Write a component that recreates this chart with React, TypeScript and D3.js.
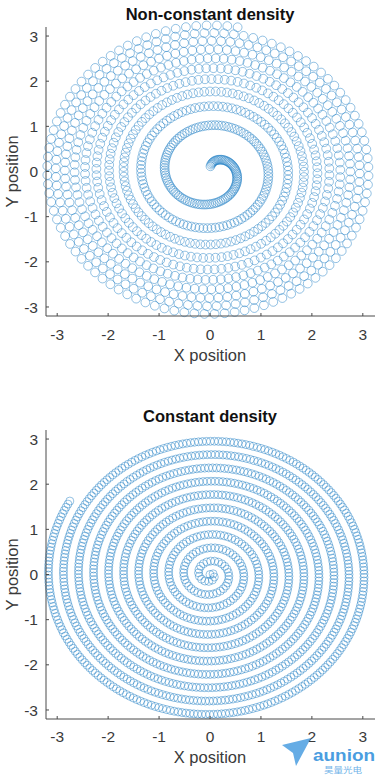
import React from "react";
import * as d3 from "d3";

// ---- data ----
const titles = ["Non-constant density", "Constant density"];
const xTicks = [-3, -2, -1, 0, 1, 2, 3];
const yTicks = [-3, -2, -1, 0, 1, 2, 3];
const xDomain = [-3.2, 3.2];
const yDomain = [-3.2, 3.2];

// Non-constant density: spiral r^2 = theta / k, points at equal angle steps
const fermatK = [6];
const fermatTheta = [0.08, 63]; // start, end (rad)
const fermatCount = [1000];

// Constant density: Archimedean spiral, pitch per turn, points at equal arc-length steps
const archPitch = [0.295];
const archTurns = [10.835];
const archCount = [1400];

type P = { x: number; y: number };

function fermatPoints(): P[] {
  const n = fermatCount[0];
  const t = d3.scaleLinear().domain([0, n - 1]).range(fermatTheta);
  return d3.range(n).map((i) => {
    const th = t(i);
    const r = Math.sqrt(th / fermatK[0]);
    return { x: r * Math.sin(th), y: r * Math.cos(th) };
  });
}

function archPoints(): P[] {
  const b = archPitch[0] / (2 * Math.PI);
  const thMax = archTurns[0] * 2 * Math.PI;
  const step = 0.0005;
  const ths: number[] = [0];
  const ss: number[] = [0];
  for (let th = step; th <= thMax + 1e-9; th += step) {
    const m = th - step / 2;
    const ds = b * Math.sqrt(1 + m * m) * step;
    ths.push(th);
    ss.push(ss[ss.length - 1] + ds);
  }
  const S = ss[ss.length - 1];
  const n = archCount[0];
  const bis = d3.bisector((d: number) => d).left;
  return d3.range(n).map((i) => {
    const target = (S * i) / (n - 1);
    const k = Math.min(bis(ss, target), ss.length - 1);
    const th = ths[k];
    const r = b * th;
    return { x: r * Math.sin(th), y: r * Math.cos(th) };
  });
}

const font = "'Liberation Sans', Arial, Helvetica, sans-serif";
const axisColor = "#4a4a4a";
const textColor = "#3a3a3a";

function Panel(props: {
  title: string;
  pts: P[];
  top: number;
  bottom: number;
  titleY: number;
  tickY: number;
  labelY: number;
  rMark: number;
}) {
  const { title, pts, top, bottom, titleY, tickY, labelY, rMark } = props;
  const x = d3.scaleLinear().domain(xDomain).range([47, 373]);
  const y = d3.scaleLinear().domain(yDomain).range([bottom, top]);
  const left = 46;
  const right = 375;
  return (
    <g>
      <text x={210} y={titleY} textAnchor="middle" fontFamily={font} fontWeight="bold" fontSize={16.5} fill="#111">
        {title}
      </text>
      <g fill="none" stroke="#1f7fc4" strokeWidth={0.6} strokeOpacity={0.8}>
        {pts.map((p, i) => (
          <circle key={i} cx={x(p.x)} cy={y(p.y)} r={rMark} />
        ))}
      </g>
      <line x1={left} x2={left} y1={top} y2={bottom} stroke={axisColor} strokeWidth={1} />
      <line x1={left} x2={right} y1={bottom} y2={bottom} stroke={axisColor} strokeWidth={1} />
      {xTicks.map((t) => (
        <g key={"x" + t}>
          <line x1={x(t)} x2={x(t)} y1={bottom} y2={bottom - 3} stroke={axisColor} strokeWidth={1} />
          <text x={x(t)} y={tickY} textAnchor="middle" fontFamily={font} fontSize={15.5} fill={textColor}>
            {t}
          </text>
        </g>
      ))}
      {yTicks.map((t) => (
        <g key={"y" + t}>
          <line x1={left} x2={left + 3} y1={y(t)} y2={y(t)} stroke={axisColor} strokeWidth={1} />
          <text x={38} y={y(t)} dy="0.36em" textAnchor="end" fontFamily={font} fontSize={15.5} fill={textColor}>
            {t}
          </text>
        </g>
      ))}
      <text x={210} y={labelY} textAnchor="middle" fontFamily={font} fontSize={16.5} fill={textColor}>
        X position
      </text>
      <text
        transform={`translate(18,${y(0)}) rotate(-90)`}
        textAnchor="middle"
        fontFamily={font}
        fontSize={16.5}
        fill={textColor}
      >
        Y position
      </text>
    </g>
  );
}

export default function App() {
  const topPts = React.useMemo(fermatPoints, []);
  const botPts = React.useMemo(archPoints, []);
  return (
    <svg
      width={389}
      height={775}
      style={{ position: "absolute", left: 0, top: 0, background: "#fff" }}
    >
      <rect width={389} height={775} fill="#fff" />
      <Panel title={titles[0]} pts={topPts} top={27} bottom={316} titleY={20} tickY={340} labelY={361} rMark={4.4} />
      <Panel title={titles[1]} pts={botPts} top={430} bottom={719} titleY={422} tickY={742} labelY={763} rMark={4} />
      <g>
        <polygon points="282,745 311,738 296,766 293,753" fill="#4a9de0" opacity={0.85} />
        <text x={313} y={761} fontFamily={font} fontWeight="bold" fontSize={17} fill="#4a9de0" textLength={62} lengthAdjust="spacingAndGlyphs">
          aunion
        </text>
        <text x={324} y={773} fontFamily="'Noto Sans CJK SC', sans-serif" fontSize={8} fill="#6fb3e8" textLength={38} lengthAdjust="spacingAndGlyphs">
          昊量光电
        </text>
      </g>
    </svg>
  );
}
